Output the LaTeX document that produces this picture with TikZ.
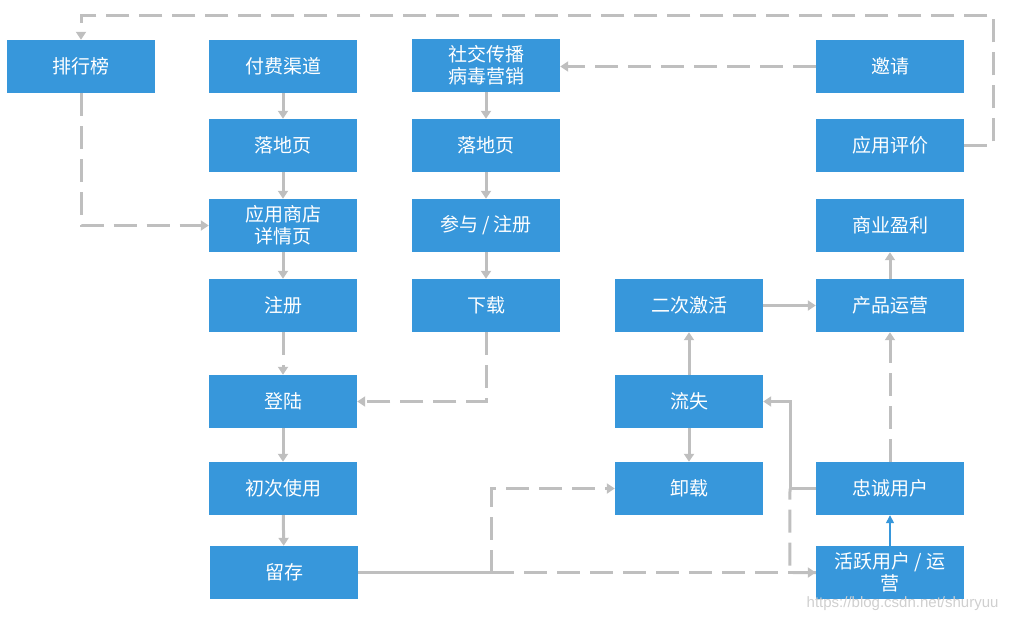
\documentclass[tikz,border=0pt]{standalone}
\usepackage{fontspec}
\setmainfont{Noto Sans CJK SC}
\newfontfamily\wmfont{Liberation Sans}
\usetikzlibrary{arrows.meta}
\definecolor{boxblue}{HTML}{3797DB}
\definecolor{linegray}{HTML}{BFBFBF}
\definecolor{wmgray}{HTML}{CFCFCF}
\tikzset{
  box/.style={fill=boxblue,text=white,minimum width=148pt,minimum height=53pt,
    inner sep=0pt,align=center,font=\fontsize{19}{22}\selectfont},
  link/.style={draw=linegray,line width=3pt,-{Triangle[width=10pt,length=8pt]}},
  plainlink/.style={draw=linegray,line width=3pt},
  dlink/.style={link,dash pattern=on 23pt off 10pt},
}
\begin{document}
\begin{tikzpicture}[x=1pt,y=-1pt]
  \useasboundingbox (0,0) rectangle (1010,622);
  % first column
  \node[box] (paihang) at (81,66.5) {排行榜};
  \node[box] (fufei) at (283,66.5) {付费渠道};
  \node[box] (luodi1) at (283,145.5) {落地页};
  \node[box] (shangdian) at (283,225.5) {应用商店\\详情页};
  \node[box] (zhuce) at (283,305.5) {注册};
  \node[box] (denglu) at (283,401.5) {登陆};
  \node[box] (chuci) at (283,488.5) {初次使用};
  \node[box] (liucun) at (284,572.5) {留存};
  % second column
  \node[box] (shejiao) at (486,65.5) {社交传播\\病毒营销};
  \node[box] (luodi2) at (486,145.5) {落地页};
  \node[box] (canyu) at (486,225.5) {参与 / 注册};
  \node[box] (xiazai) at (486,305.5) {下载};
  % third column
  \node[box] (erci) at (689,305.5) {二次激活};
  \node[box] (liushi) at (689,401.5) {流失};
  \node[box] (xiezai) at (689,488.5) {卸载};
  % fourth column
  \node[box] (yaoqing) at (890,66.5) {邀请};
  \node[box] (pingjia) at (890,145.5) {应用评价};
  \node[box] (yingli) at (890,225.5) {商业盈利};
  \node[box] (yunying) at (890,305.5) {产品运营};
  \node[box] (zhongcheng) at (890,488.5) {忠诚用户};
  \node[box] (huoyue) at (890,572.5) {活跃用户 / 运\\营};
  \coordinate (topc) at (993,15);
  \coordinate (split) at (491,572.5);
  \coordinate (joinc) at (790,488.5);
  % links
  \draw[link] (fufei) -- (luodi1);
  \draw[link] (luodi1) -- (shangdian);
  \draw[link] (shangdian) -- (zhuce);
  \draw[dlink] (zhuce) -- (denglu);
  \draw[link] (denglu) -- (chuci);
  \draw[link] (chuci) -- (liucun);
  \draw[link] (shejiao) -- (luodi2);
  \draw[link] (luodi2) -- (canyu);
  \draw[link] (canyu) -- (xiazai);
  \draw[dlink] (xiazai.south) |- (denglu.east);
  \draw[dlink] (yaoqing.west) -- (yaoqing.west -| shejiao.east);
  \draw[dlink] (pingjia.east) -| (topc) -| (paihang.north);
  \draw[dlink] (paihang.south) |- (shangdian.west);
  \draw[plainlink] (liucun.east) -- (split);
  \draw[dlink] (split) -- (huoyue.west);
  \draw[dlink] (split) |- (xiezai.west);
  \draw[link] (liushi) -- (erci);
  \draw[link] (liushi) -- (xiezai);
  \draw[link] (erci) -- (yunying);
  \draw[link] (yunying) -- (yingli);
  \draw[dlink] (zhongcheng) -- (yunying);
  \draw[plainlink,dash pattern=on 23pt off 10pt] (huoyue.west) -- ++(-26,0) -- (joinc);
  \draw[plainlink] (zhongcheng.west) -- (joinc);
  \draw[link] (joinc) |- (liushi.east);
  \draw[boxblue,line width=1.5pt,-{Triangle[width=8pt,length=8pt]}] (huoyue) -- (zhongcheng);
  \node[anchor=east,text=wmgray,font=\wmfont\fontsize{15}{17}\selectfont] (wm) at (1002,604) {https://blog.csdn.net/shuryuu};
\end{tikzpicture}
\end{document}
